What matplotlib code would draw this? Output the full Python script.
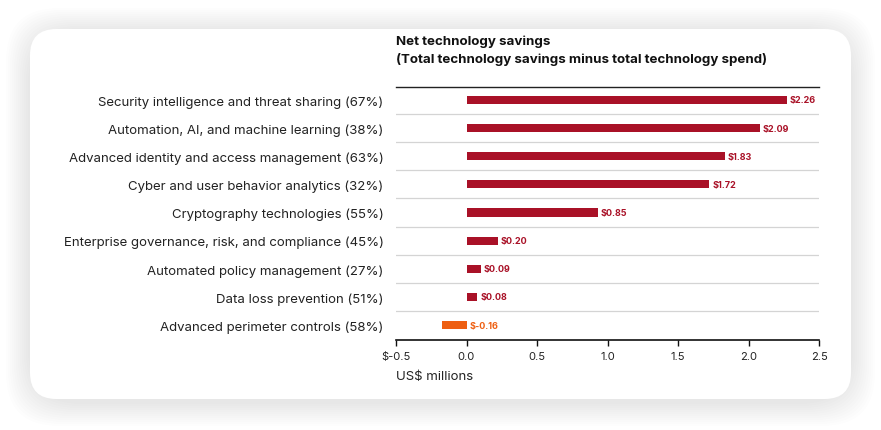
import matplotlib.pyplot as plt
from matplotlib.patches import FancyBboxPatch

categories = [
    "Security intelligence and threat sharing (67%)",
    "Automation, AI, and machine learning (38%)",
    "Advanced identity and access management (63%)",
    "Cyber and user behavior analytics (32%)",
    "Cryptography technologies (55%)",
    "Enterprise governance, risk, and compliance (45%)",
    "Automated policy management (27%)",
    "Data loss prevention (51%)",
    "Advanced perimeter controls (58%)",
]
# printed values
savings = [2.26, 2.09, 1.83, 1.72, 0.85, 0.20, 0.09, 0.08, -0.16]
# bar lengths as drawn in the source (a few differ slightly from the labels)
bar_lengths = [2.27, 2.08, 1.83, 1.72, 0.93, 0.22, 0.10, 0.075, -0.175]
tick_vals = [-0.5, 0.0, 0.5, 1.0, 1.5, 2.0, 2.5]
tick_labels = ["$-0.5", "0.0", "0.5", "1.0", "1.5", "2.0", "2.5"]

RED = "#a91127"
ORANGE = "#ee5f12"
TXT = "#222222"

plt.rcParams["font.family"] = ["Inter", "DejaVu Sans"]

W, H = 881, 431
fig = plt.figure(figsize=(W / 100, H / 100), dpi=100)
fig.patch.set_facecolor("#ffffff")

# card with soft shadow
x0, y0, x1, y1 = 30, 30, 851, 400
for i in range(12):
    g = 24 - 2 * i
    sh = FancyBboxPatch(((x0 - g) / W, 1 - (y1 + g + 3) / H),
                        (x1 - x0 + 2 * g) / W, (y1 - y0 + 2 * g) / H,
                        boxstyle="round,pad=0,rounding_size=0.06",
                        transform=fig.transFigure, facecolor="black",
                        edgecolor="none", alpha=0.007, zorder=0, mutation_aspect=W / H)
    fig.patches.append(sh)
card = FancyBboxPatch((x0 / W, 1 - y1 / H), (x1 - x0) / W, (y1 - y0) / H,
                      boxstyle="round,pad=0,rounding_size=0.03",
                      transform=fig.transFigure, facecolor="white",
                      edgecolor="none", zorder=1, mutation_aspect=W / H)
fig.patches.append(card)

ax = fig.add_axes([396 / W, 1 - 341 / H, (819 - 396) / W, (341 - 88) / H])
ax.set_facecolor("none")
ax.set_zorder(2)

ypos = list(range(len(categories)))
colors = [RED if v >= 0 else ORANGE for v in savings]
ax.barh(ypos, bar_lengths, height=0.29, color=colors, zorder=3)

for y, v, b, c in zip(ypos, savings, bar_lengths, colors):
    ax.text(max(b, 0) + 0.022, y, f"${v:.2f}", color=c, fontsize=6.5,
            fontweight="bold", va="center", ha="left")

for y in ypos[:-1]:
    ax.axhline(y + 0.5, color="#d4d4d4", lw=0.9, zorder=1)

ax.set_xlim(-0.5, 2.5)
ax.set_ylim(8.53, -0.46)
ax.set_yticks(ypos)
ax.set_yticklabels(categories, fontsize=9.5, color=TXT)
ax.tick_params(axis="y", length=0, pad=9)
ax.set_xticks(tick_vals)
ax.set_xticklabels(tick_labels, fontsize=8, color=TXT)
ax.tick_params(axis="x", length=4, width=1, color="#111111", pad=4)

for s in ["left", "right"]:
    ax.spines[s].set_visible(False)
ax.spines["top"].set_color("#222222")
ax.spines["top"].set_linewidth(1)
ax.spines["bottom"].set_color("#111111")
ax.spines["bottom"].set_linewidth(1.2)

fig.text(396 / W, 1 - 42 / H, "Net technology savings", fontsize=9.6,
         fontweight="bold", color="#111111", va="center", ha="left")
fig.text(396 / W, 1 - 59 / H, "(Total technology savings minus total technology spend)",
         fontsize=9.6, fontweight="bold", color="#111111", va="center", ha="left")
fig.text(396 / W, 1 - 377 / H, "US$ millions", fontsize=9.5, color=TXT,
         va="center", ha="left")

fig.savefig("out.png", dpi=100)
